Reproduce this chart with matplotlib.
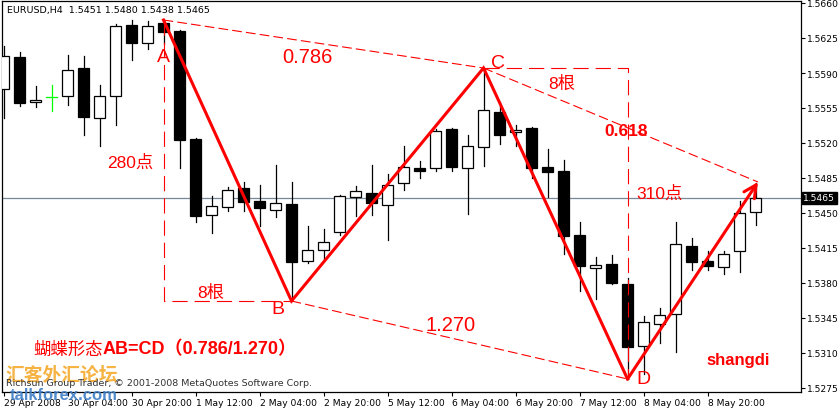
import matplotlib
matplotlib.use('Agg')
import matplotlib.pyplot as plt
import matplotlib.transforms as mtransforms
from matplotlib.patches import Rectangle

plt.rcParams['font.family'] = ['DejaVu Sans', 'Noto Sans CJK SC']
plt.rcParams['lines.scale_dashes'] = False

# EURUSD H4 bars (29 Apr 2008 .. 8 May 2008)
opens = [1.5574, 1.5606, 1.5561, 1.5566, 1.5567, 1.5595, 1.5545, 1.5567, 1.5638, 1.5620,
         1.5640, 1.5632, 1.5524, 1.5448, 1.5456, 1.5475, 1.5462, 1.5453, 1.5459, 1.5402,
         1.5413, 1.5431, 1.5466, 1.5470, 1.5458, 1.5480, 1.5495, 1.5495, 1.5534, 1.5495,
         1.5516, 1.5551, 1.5531, 1.5535, 1.5496, 1.5492, 1.5428, 1.5395, 1.5399, 1.5379,
         1.5317, 1.5339, 1.5349, 1.5417, 1.5402, 1.5396, 1.5412, 1.5451]
highs = [1.5617, 1.5611, 1.5577, 1.5578, 1.5608, 1.5607, 1.5578, 1.5639, 1.5643, 1.5642,
         1.5643, 1.5633, 1.5525, 1.5467, 1.5476, 1.5481, 1.5478, 1.5498, 1.5481, 1.5437,
         1.5434, 1.5468, 1.5477, 1.5498, 1.5489, 1.5517, 1.5502, 1.5534, 1.5535, 1.5528,
         1.5595, 1.5561, 1.5538, 1.5536, 1.5514, 1.5503, 1.5441, 1.5406, 1.5408, 1.5385,
         1.5347, 1.5355, 1.5441, 1.5425, 1.5412, 1.5412, 1.5462, 1.5480]
lows = [1.5545, 1.5557, 1.5556, 1.5552, 1.5558, 1.5528, 1.5517, 1.5538, 1.5603, 1.5614,
        1.5619, 1.5495, 1.5441, 1.5430, 1.5452, 1.5452, 1.5437, 1.5446, 1.5362, 1.5400,
        1.5404, 1.5428, 1.5447, 1.5448, 1.5423, 1.5473, 1.5485, 1.5492, 1.5492, 1.5449,
        1.5497, 1.5519, 1.5517, 1.5485, 1.5466, 1.5409, 1.5372, 1.5364, 1.5379, 1.5284,
        1.5289, 1.5320, 1.5311, 1.5393, 1.5393, 1.5389, 1.5391, 1.5438]
closes = [1.5607, 1.5560, 1.5563, 1.5566, 1.5593, 1.5546, 1.5567, 1.5637, 1.5620, 1.5637,
          1.5631, 1.5523, 1.5447, 1.5457, 1.5473, 1.5461, 1.5455, 1.5460, 1.5401, 1.5413,
          1.5421, 1.5467, 1.5472, 1.5460, 1.5478, 1.5496, 1.5492, 1.5532, 1.5496, 1.5517,
          1.5553, 1.5528, 1.5533, 1.5495, 1.5491, 1.5427, 1.5397, 1.5398, 1.5380, 1.5316,
          1.5341, 1.5348, 1.5419, 1.5401, 1.5397, 1.5409, 1.5450, 1.5465]

time_labels = ['29 Apr 2008', '30 Apr 04:00', '30 Apr 20:00', '1 May 12:00', '2 May 04:00',
               '2 May 20:00', '5 May 12:00', '6 May 04:00', '6 May 20:00', '7 May 12:00',
               '8 May 04:00', '8 May 20:00']
price_ticks = [1.5660, 1.5625, 1.5590, 1.5555, 1.5520, 1.5485, 1.5450, 1.5415,
               1.5380, 1.5345, 1.5310, 1.5275]
last_price = 1.5465

# butterfly pattern points A, B, C, D (bar index, price) and target E
pat_names = ['A', 'B', 'C', 'D']
pat_bars = [10, 18, 30, 39]
pat_prices = [1.5643, 1.5362, 1.5595, 1.5284]
target_bar, target_price = 47.15, 1.5481

RED = '#ff0000'

fig = plt.figure(figsize=(8.4, 4.1), dpi=100)
ax = fig.add_axes([2 / 840, 17 / 410, 799 / 840, 391 / 410])
ax.set_xlim(-0.094, 49.84)
ax.set_ylim(1.5271, 1.5662)

# current price line
ax.axhline(last_price, color='#778899', lw=0.9, zorder=1)

# candles
w = 0.68
for i, (o, h, l, c) in enumerate(zip(opens, highs, lows, closes)):
    if o == c:
        ax.plot([i, i], [l, h], color='#00ff00', lw=0.9, zorder=2)
        ax.plot([i - w / 2, i + w / 2], [o, c], color='#00ff00', lw=0.9, zorder=2)
        continue
    ax.plot([i, i], [l, h], color='black', lw=0.9, zorder=2)
    fc = 'white' if c > o else 'black'
    ax.add_patch(Rectangle((i - w / 2, min(o, c)), w, abs(c - o), facecolor=fc,
                           edgecolor='black', lw=0.9, zorder=3))

# dashed construction lines
dash = dict(color=RED, lw=0.8, dashes=(7, 3), zorder=4)
ax.plot([pat_bars[0], pat_bars[2]], [pat_prices[0], pat_prices[2]], **dash)
ax.plot([pat_bars[2], target_bar], [pat_prices[2], target_price], **dash)
ax.plot([pat_bars[1], pat_bars[3]], [pat_prices[1], pat_prices[3]], **dash)
ax.plot([pat_bars[0], pat_bars[0], pat_bars[1]], [pat_prices[0], pat_prices[1], pat_prices[1]],
        color=RED, lw=0.8, dashes=(11, 5), zorder=4)
ax.plot([pat_bars[2], pat_bars[3], pat_bars[3]], [pat_prices[2], pat_prices[2], pat_prices[3]],
        color=RED, lw=0.8, dashes=(11, 5), zorder=4)

# pattern legs
ax.plot(pat_bars, pat_prices, color=RED, lw=2.2, zorder=5, solid_joinstyle='miter')
ax.annotate('', xy=(target_bar, target_price), xytext=(pat_bars[3], pat_prices[3]),
            arrowprops=dict(arrowstyle='->,head_length=0.9,head_width=0.45', color=RED,
                            lw=2.2, shrinkA=0, shrinkB=0), zorder=5)

# labels
cjk = ['Liberation Sans', 'Noto Sans CJK SC']
lab = dict(color=RED, ha='center', va='center', zorder=6)
ax.text(9.97, 1.5606, 'A', fontsize=14, family='Liberation Sans', **lab)
ax.text(17.16, 1.5354, 'B', fontsize=14, family='Liberation Sans', **lab)
ax.text(30.9, 1.5600, 'C', fontsize=14, family='Liberation Sans', **lab)
ax.text(39.97, 1.5284, 'D', fontsize=14, family='Liberation Sans', **lab)
ax.text(18.97, 1.5606, '0.786', fontsize=14.5, family='Liberation Sans', **lab)
ax.text(27.97, 1.5338, '1.270', fontsize=14.5, family='Liberation Sans', **lab)
ax.text(38.9, 1.5533, '0.618', fontsize=12.5, fontweight='bold', family='Liberation Sans', **lab)
ax.text(7.9, 1.5501, '280点', fontsize=12.5, family=cjk, **lab)
ax.text(40.97, 1.5470, '310点', fontsize=12.5, family=cjk, **lab)
ax.text(12.97, 1.5371, '8根', fontsize=12.5, family=cjk, **lab)
ax.text(34.9, 1.5580, '8根', fontsize=12.5, family=cjk, **lab)
ax.text(45.9, 1.5303, 'shangdi', fontsize=12, fontweight='bold', family='Liberation Sans', **lab)
ax.text(1.84, 1.5314, '蝴蝶形态', fontsize=12.5, color=RED, ha='left', va='center',
        family='Noto Sans CJK SC', zorder=6)
ax.text(6.2, 1.5314, 'AB=CD（0.786/1.270）', fontsize=13, color=RED, ha='left', va='center',
        fontweight='bold', family=cjk, zorder=6)

# axes styling
ax.yaxis.tick_right()
ax.set_yticks(price_ticks)
ax.set_yticklabels(['%.4f' % p for p in price_ticks])
ax.set_xticks(range(0, 48, 4))
ax.set_xticklabels(time_labels, ha='left')
ax.tick_params(axis='both', direction='out', length=3, width=0.8, labelsize=6.6,
               colors='black', pad=1.5)
for s in ax.spines.values():
    s.set_linewidth(0.9)

trans = mtransforms.blended_transform_factory(ax.transAxes, ax.transData)
ax.text(1.003, last_price, '1.5465', transform=trans, fontsize=6.6, color='white',
        ha='left', va='center', clip_on=False, zorder=7,
        bbox=dict(boxstyle='square,pad=0.15', fc='black', ec='black'))

# header and watermarks (they overlap each other in the original screenshot too)
fig.text(7 / 840, 1 - 10 / 410, 'EURUSD,H4  1.5451 1.5480 1.5438 1.5465', fontsize=6.8,
         va='center', ha='left')
fig.text(5 / 840, 1 - 376 / 410, '汇客外汇论坛', fontsize=13.5, color='#f5a623',
         fontweight='bold', family='Noto Sans CJK SC', va='center', ha='left', alpha=0.85)
fig.text(6 / 840, 1 - 384 / 410, 'Richsun Group Trader, © 2001-2008 MetaQuotes Software Corp.',
         fontsize=6.8, va='center', ha='left', color='#333333')
fig.text(10 / 840, 1 - 396 / 410, 'talkforex.com', fontsize=12, fontweight='bold',
         family='Liberation Sans', color='#3f7fc6', va='center', ha='left', alpha=0.9)

fig.savefig('out.png', dpi=100, facecolor='white')
